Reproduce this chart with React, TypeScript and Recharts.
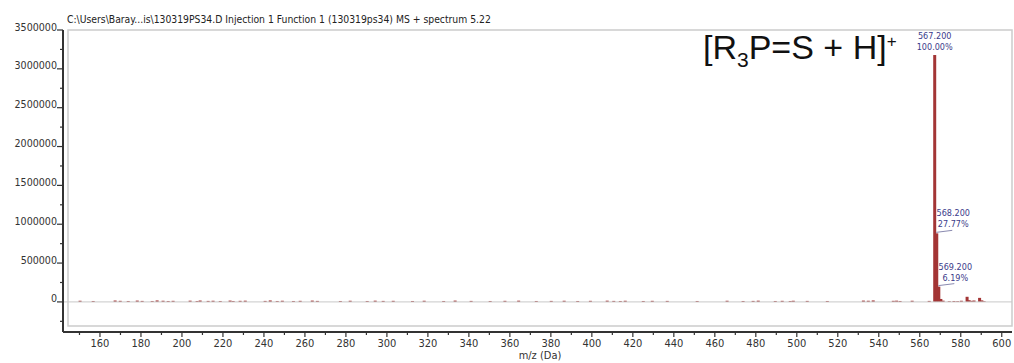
import React from 'react'
import { Bar, ComposedChart, LabelList, ReferenceArea, ReferenceLine, XAxis, YAxis } from 'recharts'

// main isotope cluster of the protonated phosphine sulfide
const peakMz = [567.2, 568.2, 569.2]
const peakIntensity = [3178000, 882500, 196700]
const peakPercent = ['100.00%', '27.77%', '6.19%']

// small peaks next to the cluster
const minorMz = [570.2, 571.3, 574.3, 576.6, 578.4, 580.2, 583.0, 584.0, 585.3, 586.4, 589.1, 590.2, 591.3]
const minorIntensity = [38000, 16000, 9000, 12000, 10000, 15000, 66000, 22000, 14000, 18000, 52000, 20000, 9000]

// baseline noise
const noiseMz = [
  150.2, 156.6, 167.3, 169.8, 173.7, 178.1, 180.5, 185.4, 187.8, 190.7, 193.2, 195.6, 203.9, 207.3,
  208.8, 212.7, 215.1, 218.6, 223.4, 224.9, 228.3, 230.8, 240.5, 243.0, 246.4, 248.9, 254.3, 257.6,
  263.5, 266.0, 277.2, 282.0, 290.3, 294.2, 298.1, 303.0, 312.4, 318.1, 327.6, 333.2, 341.0, 350.3,
  357.5, 364.2, 372.8, 380.1, 386.4, 393.0, 399.2, 407.4, 410.6, 413.8, 416.2, 425.0, 429.4, 436.7,
  451.3, 465.9, 473.7, 478.6, 481.1, 489.4, 492.8, 496.7, 498.2, 505.0, 514.8, 532.4, 534.8, 537.2,
  547.0, 548.6, 550.3, 556.2, 564.5,
]
const noiseIntensity = [
  15000, 12000, 18000, 14000, 12000, 17000, 13000, 12000, 19000, 15000, 12000, 14000, 16000, 12000,
  18000, 13000, 15000, 12000, 17000, 12000, 14000, 16000, 13000, 19000, 12000, 15000, 12000, 14000,
  17000, 13000, 12000, 15000, 12000, 16000, 13000, 14000, 12000, 15000, 12000, 17000, 13000, 12000,
  14000, 16000, 12000, 13000, 15000, 12000, 14000, 16000, 13000, 12000, 15000, 12000, 14000, 13000,
  12000, 15000, 12000, 13000, 16000, 12000, 14000, 12000, 15000, 13000, 12000, 17000, 15000, 19000,
  14000, 16000, 12000, 15000, 13000,
]

const xTicks = [
  150, 160, 170, 180, 190, 200, 210, 220, 230, 240, 250, 260, 270, 280, 290, 300, 310, 320, 330, 340,
  350, 360, 370, 380, 390, 400, 410, 420, 430, 440, 450, 460, 470, 480, 490, 500, 510, 520, 530, 540,
  550, 560, 570, 580, 590, 600,
]
const yTicks = [
  -250000, 0, 250000, 500000, 750000, 1000000, 1250000, 1500000, 1750000, 2000000, 2250000, 2500000,
  2750000, 3000000, 3250000, 3500000,
]

const X_DOMAIN: [number, number] = [144.4, 605]
const Y_DOMAIN: [number, number] = [-310000, 3500000]

const TITLE = 'C:\\Users\\Baray...is\\130319PS34.D Injection 1 Function 1 (130319ps34) MS + spectrum 5.22'
const UI_FONT = 'Tahoma, "DejaVu Sans Condensed", "DejaVu Sans", sans-serif'
const BAR_COLOR = '#a33535'
const NOTE_COLOR = '#3b3b8a'
const STICK_WIDTH = 3

const rows = [
  ...noiseMz.map((mz, i) => ({ mz, intensity: noiseIntensity[i] })),
  ...minorMz.map((mz, i) => ({ mz, intensity: minorIntensity[i] })),
  ...peakMz.map((mz, i) => ({ mz, intensity: peakIntensity[i], note: `${mz.toFixed(3)}|${peakPercent[i]}` })),
].sort((a, b) => a.mz - b.mz)

function XTick({ x, y, payload }: any) {
  const major = payload.value % 20 === 0
  return (
    <g>
      <line x1={x} x2={x} y1={y} y2={y + (major ? 5 : 3)} stroke="#333" strokeWidth={1.2} />
      {major && (
        <text x={x} y={y + 14.5} textAnchor="middle" fontSize={11} fontFamily={UI_FONT} fill="#333">
          {payload.value}
        </text>
      )}
    </g>
  )
}

function YTick({ x, y, payload }: any) {
  const major = payload.value % 500000 === 0 && payload.value >= 0
  return (
    <g>
      <line x1={x - (major ? 6 : 3)} x2={x} y1={y} y2={y} stroke="#333" strokeWidth={1.2} />
      {major && (
        <text x={x - 6} y={y + 0.5} textAnchor="end" fontSize={10.6} fontFamily={UI_FONT} fill="#333">
          {payload.value}
        </text>
      )}
    </g>
  )
}

// stick drawn centred on the bar slot, a bit wider than the slot recharts gives
function Stick(props: any) {
  const { x, y, width, height } = props
  if (!height) return null
  return <rect x={x + width / 2 - STICK_WIDTH / 2} y={y} width={STICK_WIDTH} height={height} fill={BAR_COLOR} />
}

function PeakNote(props: any) {
  const { x, y, width, value } = props
  if (!value) return null
  const [mzText, pctText] = String(value).split('|')
  const base = { fontSize: 9, fontFamily: UI_FONT, fill: NOTE_COLOR, textAnchor: 'middle' as const }
  const left = x + width / 2 - STICK_WIDTH / 2
  if (pctText === '100.00%') {
    const cx = x + width / 2
    return (
      <g>
        <text x={cx} y={y - 16} {...base}>{mzText}</text>
        <text x={cx} y={y - 5} {...base}>{pctText}</text>
      </g>
    )
  }
  const cx = left + 18
  return (
    <g>
      <text x={cx} y={y - 17} {...base}>{mzText}</text>
      <text x={cx} y={y - 6} {...base}>{pctText}</text>
      <line x1={left + 1} y1={y - 1} x2={left + 17} y2={y - 3} stroke="#8a8ab0" strokeWidth={1} />
    </g>
  )
}

export default function App() {
  return (
    <div style={{ position: 'absolute', left: 0, top: 0, width: 1014, height: 363, background: '#fff' }}>
      <ComposedChart
        width={1014}
        height={363}
        data={rows}
        margin={{ top: 30, right: 2, bottom: 0, left: 0 }}
      >
        <XAxis
          dataKey="mz"
          type="number"
          domain={X_DOMAIN}
          allowDataOverflow
          ticks={xTicks}
          interval={0}
          tickSize={0}
          tickMargin={0}
          tick={<XTick />}
          padding={{ left: 5, right: 0 }}
          height={31}
          axisLine={{ stroke: '#333', strokeWidth: 2 }}
        />
        <YAxis
          type="number"
          domain={Y_DOMAIN}
          allowDataOverflow
          ticks={yTicks}
          interval={0}
          tickSize={0}
          tickMargin={0}
          tick={<YTick />}
          padding={{ top: 0, bottom: 6 }}
          width={63}
          axisLine={{ stroke: '#333', strokeWidth: 2 }}
        />
        <ReferenceArea
          x1={X_DOMAIN[0]}
          x2={X_DOMAIN[1]}
          y1={Y_DOMAIN[0]}
          y2={Y_DOMAIN[1]}
          fill="#fff"
          fillOpacity={1}
          stroke="#cccccc"
          strokeWidth={1.5}
        />
        <ReferenceLine y={0} stroke="#c8c8c8" strokeWidth={1} />
        <Bar dataKey="intensity" fill={BAR_COLOR} shape={<Stick />} isAnimationActive={false}>
          <LabelList dataKey="note" content={<PeakNote />} />
        </Bar>
      </ComposedChart>
      <svg
        width={1014}
        height={363}
        style={{ position: 'absolute', left: 0, top: 0, pointerEvents: 'none' }}
      >
        <text x={67} y={23} fontSize={10.3} fontFamily={UI_FONT} fill="#222">{TITLE}</text>
        <text x={540} y={359} fontSize={11} fontFamily={UI_FONT} fill="#333" textAnchor="middle">m/z (Da)</text>
        <text x={703} y={59} fontSize={34} fontFamily='"Liberation Sans", Arial, sans-serif' fill="#111">
          [R<tspan dy={8} fontSize={21}>3</tspan>
          <tspan dy={-8}>P=S + H]</tspan>
          <tspan dy={-12} fontSize={17}>+</tspan>
        </text>
      </svg>
    </div>
  )
}
